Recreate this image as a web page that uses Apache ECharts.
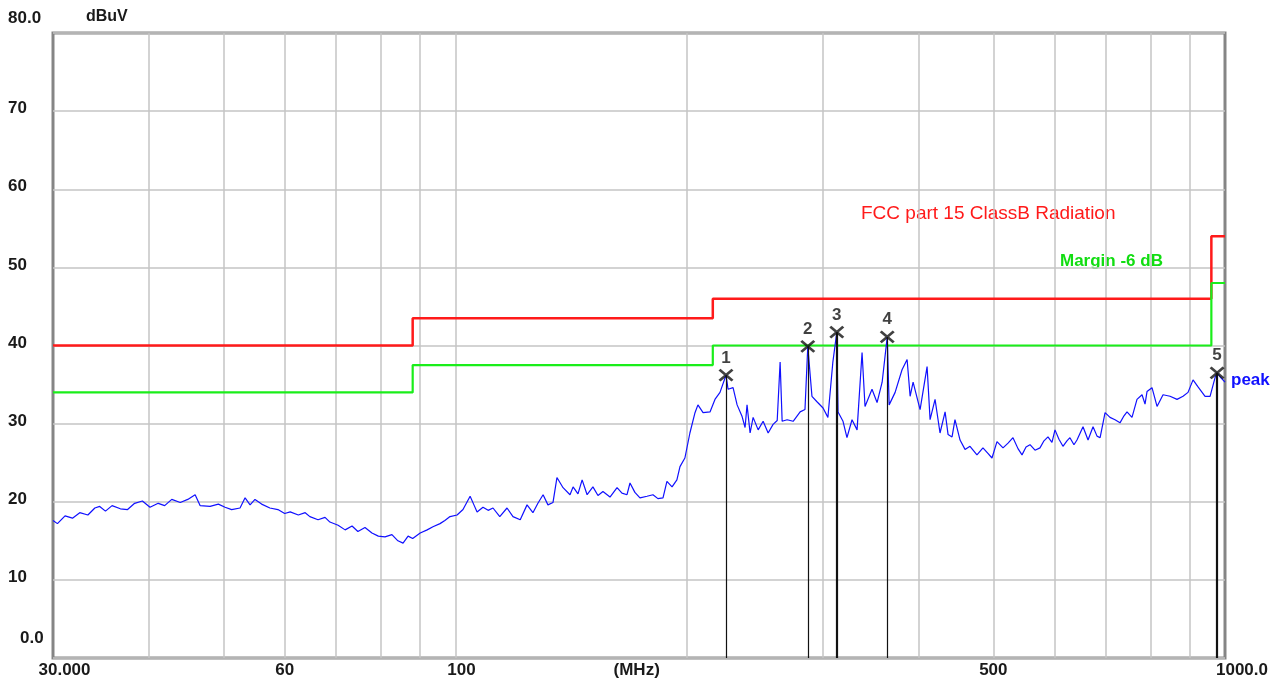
<!DOCTYPE html>
<html>
<head>
<meta charset="utf-8">
<script src="https://cdn.jsdelivr.net/npm/echarts@6/dist/echarts.min.js"></script>
<style>
  html, body { margin: 0; padding: 0; background: #fff; }
  #chart { width: 1284px; height: 682px; }
</style>
</head>
<body>
<div id="chart"></div>
<script>
// Frequency grid lines (MHz) and the labelled ticks
var gridFreqs = [40, 50, 60, 70, 80, 90, 100, 200, 300, 400, 500, 600, 700, 800, 900]
var xLabelFreqs = [30, 60, 100, 172, 500, 1000]
var xLabelText = { 30: '30.000', 60: '60', 100: '100', 172: '(MHz)', 500: '500', 1000: '1000.0' }

// FCC part 15 class B limit and the -6 dB margin (step lines)
var limitLine = [[30, 40], [88, 43.5], [216, 46], [960, 54], [1000, 54]]
var marginLine = [[30, 34], [88, 37.5], [216, 40], [960, 48], [1000, 48]]

// Peak trace: [MHz, dBuV]
var peakTrace = [
  [30.0, 17.6], [30.4, 17.2], [31.1, 18.2], [31.8, 17.9], [32.5, 18.6], [33.3, 18.3], [34.0, 19.2], [34.5, 19.4],
  [35.1, 18.8], [35.8, 19.5], [36.7, 19.1], [37.5, 19.0], [38.3, 19.8], [39.2, 20.1], [40.1, 19.3], [41.1, 19.8],
  [41.9, 19.5], [42.8, 20.3], [43.9, 19.9], [44.9, 20.3], [45.9, 20.9], [46.6, 19.5], [48.0, 19.4], [49.2, 19.7],
  [50.2, 19.3], [51.2, 19.0], [52.5, 19.2], [53.3, 20.5], [54.1, 19.6], [54.9, 20.3], [56.0, 19.7], [57.4, 19.2],
  [58.8, 19.0], [60.0, 18.5], [61.0, 18.7], [62.5, 18.3], [63.8, 18.6], [64.7, 18.1], [66.3, 17.7], [67.7, 18.0],
  [68.7, 17.4], [70.4, 17.0], [71.9, 16.4], [73.4, 16.9], [74.7, 16.2], [76.3, 16.7], [77.9, 16.0], [79.4, 15.6],
  [81.0, 15.5], [82.7, 15.8], [84.2, 15.0], [85.5, 14.7], [86.8, 15.6], [88.0, 15.3], [90.0, 16.0], [91.9, 16.4],
  [93.5, 16.8], [95.5, 17.2], [96.9, 17.6], [98.4, 18.1], [100.5, 18.3], [102.3, 19.0], [104.5, 20.7], [105.7, 19.6],
  [106.7, 18.7], [108.6, 19.3], [110.3, 18.9], [111.9, 19.2], [114.2, 18.1], [116.7, 19.2], [118.8, 18.1], [121.4, 17.7],
  [123.9, 19.6], [126.1, 18.6], [128.0, 19.8], [130.0, 20.9], [131.9, 19.6], [133.9, 19.9], [135.5, 23.1], [138.0, 21.8],
  [140.9, 20.9], [142.2, 21.9], [144.3, 21.0], [146.1, 22.8], [148.3, 20.9], [150.9, 21.9], [153.2, 20.8], [155.5, 21.3],
  [158.8, 20.6], [162.2, 21.8], [164.6, 21.1], [167.1, 20.9], [168.6, 22.4], [171.1, 21.2], [173.7, 20.5], [177.4, 20.7],
  [180.6, 20.9], [183.3, 20.4], [186.1, 20.5], [188.3, 22.6], [191.2, 21.9], [194.0, 22.8], [195.8, 24.5], [198.7, 25.6],
  [201.7, 28.8], [204.8, 31.4], [206.6, 32.4], [209.8, 31.4], [214.2, 31.5], [217.4, 33.1], [220.7, 34.0], [224.7, 36.2],
  [226.1, 34.4], [229.5, 34.6], [232.3, 32.4], [235.8, 30.9], [237.9, 29.5], [239.3, 32.4], [241.5, 28.8], [243.7, 30.8],
  [247.4, 29.2], [251.1, 30.3], [254.9, 28.8], [258.7, 29.9], [261.9, 30.4], [264.2, 37.9], [265.8, 30.3], [269.8, 30.5],
  [274.7, 30.3], [280.5, 31.5], [284.6, 31.8], [287.0, 39.9], [290.6, 33.5], [295.0, 32.8], [300.4, 32.0], [304.8, 30.8],
  [309.3, 37.8], [313.0, 41.7], [314.2, 31.5], [318.9, 30.3], [322.7, 28.2], [327.6, 30.5], [332.6, 29.2], [337.6, 39.1],
  [340.6, 32.2], [347.8, 34.4], [353.1, 32.7], [358.5, 35.3], [364.0, 41.1], [366.1, 32.4], [372.7, 34.0], [380.5, 36.9],
  [386.3, 38.2], [389.8, 33.5], [393.3, 35.3], [401.6, 31.8], [410.1, 37.3], [413.8, 30.5], [420.0, 33.1], [426.3, 28.8],
  [432.8, 31.5], [436.7, 28.6], [441.9, 28.3], [445.8, 30.5], [452.6, 27.9], [459.4, 26.7], [466.3, 27.1], [476.1, 26.0],
  [484.7, 26.9], [492.0, 26.2], [498.0, 25.6], [505.5, 27.7], [514.7, 26.9], [522.5, 27.5], [530.3, 28.2], [538.3, 26.8],
  [544.8, 26.0], [551.4, 27.0], [558.0, 27.3], [566.4, 26.6], [574.9, 26.9], [581.8, 27.8], [588.8, 28.3], [595.9, 27.6],
  [601.3, 29.2], [608.5, 28.0], [615.8, 27.1], [623.2, 27.8], [628.8, 28.2], [636.4, 27.3], [642.2, 27.9], [653.9, 29.6],
  [663.8, 27.9], [673.8, 29.6], [681.9, 28.4], [688.2, 28.2], [698.5, 31.4], [708.9, 30.8], [719.6, 30.5], [730.4, 30.1],
  [739.2, 31.0], [745.9, 31.5], [757.1, 30.8], [768.5, 33.1], [780.2, 33.7], [787.2, 32.5], [791.9, 34.1], [803.8, 34.6],
  [816.0, 32.2], [830.8, 33.7], [848.4, 33.5], [866.3, 33.1], [882.0, 33.5], [895.3, 34.0], [908.8, 35.6], [922.5, 34.7],
  [942.1, 33.5], [956.3, 33.5], [970.7, 35.9], [976.6, 36.5], [985.3, 36.0], [1000.0, 35.3]
]

// Numbered peak markers: [MHz, dBuV]
var markerNames = ['1', '2', '3', '4', '5']
var markerFreqs = [224.7, 287.0, 313.0, 364.0, 976.6]
var markerLevels = [36.2, 39.9, 41.7, 41.1, 36.5]
var markerWidths = [1.2, 1.2, 2.2, 1.2, 2.2]

var labelFont = '"Liberation Sans", Arial, sans-serif'

var chart = echarts.init(document.getElementById('chart'))

option = {
  backgroundColor: '#ffffff',
  animation: false,
  grid: {
    left: 53, right: 59, top: 33, bottom: 24,
    show: true,
    borderColor: '#858585',
    borderWidth: 3,
    backgroundColor: 'transparent'
  },
  xAxis: {
    type: 'log',
    logBase: 10,
    min: 30,
    max: 1000,
    axisLine: { show: false },
    axisTick: { show: false, customValues: gridFreqs },
    splitLine: { show: true, lineStyle: { color: '#c4c4c4', width: 1.5 } },
    axisLabel: {
      customValues: xLabelFreqs,
      margin: 4,
      color: '#1a1a1a',
      fontFamily: labelFont,
      fontWeight: 'bold',
      fontSize: 17,
      formatter: function (v) {
        var key = Math.round(v)
        var t = xLabelText[key] || ''
        if (key === 30) return '{a|' + t + '}'
        if (key === 100) return '{b|' + t + '}'
        if (key === 1000) return '{c|' + t + '}'
        return t
      },
      rich: {
        a: { padding: [0, 0, 0, 23], fontFamily: labelFont, fontWeight: 'bold', fontSize: 17, color: '#1a1a1a' },
        b: { padding: [0, 0, 0, 12], fontFamily: labelFont, fontWeight: 'bold', fontSize: 17, color: '#1a1a1a' },
        c: { padding: [0, 0, 0, 34], fontFamily: labelFont, fontWeight: 'bold', fontSize: 17, color: '#1a1a1a' }
      }
    }
  },
  yAxis: {
    type: 'value',
    min: 0,
    max: 80,
    interval: 10,
    axisLine: { show: false },
    axisTick: { show: false },
    splitLine: { show: true, lineStyle: { color: '#c4c4c4', width: 1.5 } },
    axisLabel: {
      align: 'left',
      margin: 45,
      color: '#1a1a1a',
      fontFamily: labelFont,
      fontWeight: 'bold',
      fontSize: 17,
      formatter: function (v) {
        if (v === 80) return '{top|80.0}'
        if (v === 0) return '{bot|0.0}'
        return '{n|' + v + '}'
      },
      rich: {
        n: { padding: [0, 0, 5, 0], fontFamily: labelFont, fontWeight: 'bold', fontSize: 17, color: '#1a1a1a' },
        top: { padding: [0, 0, 30, 0], fontFamily: labelFont, fontWeight: 'bold', fontSize: 17, color: '#1a1a1a' },
        bot: { padding: [0, 0, 40, 12], fontFamily: labelFont, fontWeight: 'bold', fontSize: 17, color: '#1a1a1a' }
      }
    }
  },
  series: [
    {
      name: 'FCC part 15 ClassB Radiation',
      type: 'line',
      step: 'end',
      data: limitLine,
      symbol: 'none',
      lineStyle: { color: '#ff1a1a', width: 2.5 },
      z: 3
    },
    {
      name: 'Margin -6 dB',
      type: 'line',
      step: 'end',
      data: marginLine,
      symbol: 'none',
      lineStyle: { color: '#1aee1a', width: 2.2 },
      z: 3
    },
    {
      name: 'peak',
      type: 'line',
      data: peakTrace,
      symbol: 'none',
      lineStyle: { color: '#1010ff', width: 1.2 },
      z: 4
    },
    {
      name: 'markers',
      type: 'scatter',
      data: markerFreqs.map(function (f, i) {
        return { value: [f, markerLevels[i]], name: markerNames[i] }
      }),
      symbol: 'path://M0,0L10,10M10,0L0,10',
      symbolSize: [13, 11],
      itemStyle: { color: 'none', borderColor: '#111', borderWidth: 2.6 },
      label: {
        show: true,
        position: 'top',
        distance: 1,
        formatter: '{b}',
        color: '#111',
        fontFamily: labelFont,
        fontWeight: 'bold',
        fontSize: 17
      },
      markLine: {
        silent: true,
        symbol: 'none',
        label: { show: false },
        data: markerFreqs.map(function (f, i) {
          return [
            { coord: [f, markerLevels[i]], lineStyle: { color: '#111', width: markerWidths[i], type: 'solid' } },
            { coord: [f, 0] }
          ]
        })
      },
      z: 5
    }
  ],
  graphic: [
    { type: 'text', left: 86, top: 9, style: { text: 'dBuV', fill: '#1a1a1a', font: 'bold 16px ' + labelFont } },
    { type: 'text', left: 861, top: 204, style: { text: 'FCC part 15 ClassB Radiation', fill: '#ff1a1a', font: '19px ' + labelFont } },
    { type: 'text', left: 1060, top: 253, style: { text: 'Margin -6 dB', fill: '#11dd11', font: 'bold 17px ' + labelFont } },
    { type: 'text', left: 1231, top: 372, style: { text: 'peak', fill: '#1010ff', font: 'bold 17px ' + labelFont } }
  ]
}

chart.setOption(option)
</script>
</body>
</html>
